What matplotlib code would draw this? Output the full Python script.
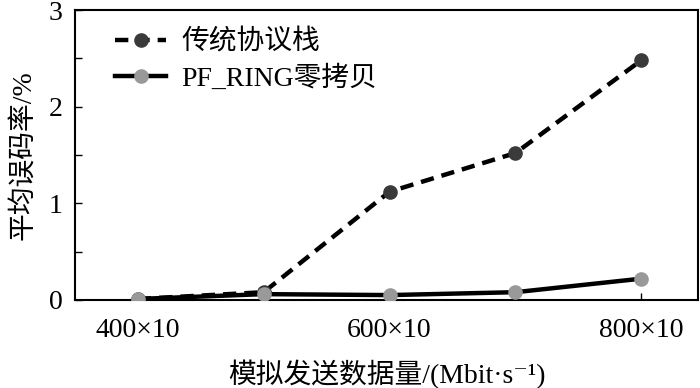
import matplotlib
matplotlib.use("Agg")
import matplotlib.pyplot as plt
from matplotlib.ticker import MultipleLocator

plt.rcParams['font.family'] = ['Liberation Serif', 'Noto Sans CJK SC', 'DejaVu Serif']

categories = ['400×10', '500×10', '600×10', '700×10', '800×10']
tick_labels = ['400×10', '', '600×10', '', '800×10']
series_names = ['传统协议栈', 'PF_RING零拷贝']
traditional = [0.01, 0.08, 1.12, 1.52, 2.48]
pfring = [0.01, 0.06, 0.05, 0.08, 0.22]

fig = plt.figure(figsize=(7, 3.88), dpi=100)
ax = fig.add_axes([0.107, 0.227, 0.890, 0.747])
x = list(range(len(categories)))

ax.plot(x, traditional, linestyle=(0, (3.0, 1.8)), color='black', linewidth=3.2,
        marker='o', markersize=9.5, markerfacecolor='#3a3a3a', markeredgecolor='#3a3a3a',
        label=series_names[0], zorder=3)
ax.plot(x, pfring, linestyle='-', color='black', linewidth=3.2,
        marker='o', markersize=9.5, markerfacecolor='#999999', markeredgecolor='#999999',
        label=series_names[1], zorder=4)

ax.set_xlim(-0.5, 4.45)
ax.set_ylim(0, 3)
ax.set_xticks([0, 2, 4])
ax.set_xticklabels([tick_labels[0], tick_labels[2], tick_labels[4]])
ax.yaxis.set_major_locator(MultipleLocator(1))
ax.yaxis.set_minor_locator(MultipleLocator(0.5))
ax.tick_params(axis='both', direction='in', labelsize=20, length=5, width=1)
ax.tick_params(axis='y', which='minor', direction='in', length=5, width=1)
ax.tick_params(axis='x', pad=13)
ax.tick_params(axis='y', pad=9)
for s in ax.spines.values():
    s.set_linewidth(1.5)

ax.set_xlabel('模拟发送数据量/(Mbit·s⁻¹)', fontsize=20, labelpad=12)
ax.set_ylabel('平均误码率/%', fontsize=20, labelpad=8)

leg = ax.legend(loc='upper left', frameon=False, fontsize=20, handlelength=1.85,
                bbox_to_anchor=(0.024, 1.02), labelspacing=0.35, handletextpad=0.55)

fig.savefig('out.png', dpi=100)
